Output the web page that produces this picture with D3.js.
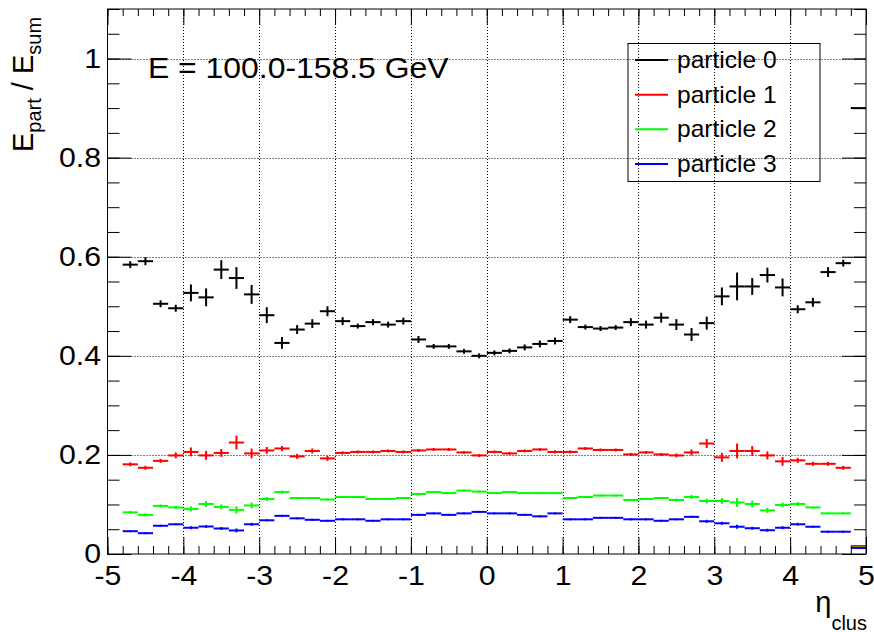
<!DOCTYPE html>
<html>
<head>
<meta charset="utf-8">
<script src="https://cdn.jsdelivr.net/npm/d3@7"></script>
<style>
  body { margin: 0; background: #fff; }
  svg { display: block; }
  text { font-family: "Liberation Sans", Arial, Helvetica, sans-serif; fill: #000; }
</style>
</head>
<body>
<svg id="chart" width="874" height="632"></svg>
<script>
// bin centres (bin width 0.2, first bin -4.9 is empty)
const etaCenters = [-4.7, -4.5, -4.3, -4.1, -3.9, -3.7, -3.5, -3.3, -3.1, -2.9, -2.7, -2.5, -2.3, -2.1, -1.9, -1.7, -1.5, -1.3, -1.1, -0.9, -0.7, -0.5, -0.3, -0.1,
  0.1, 0.3, 0.5, 0.7, 0.9, 1.1, 1.3, 1.5, 1.7, 1.9, 2.1, 2.3, 2.5, 2.7, 2.9, 3.1, 3.3, 3.5, 3.7, 3.9, 4.1, 4.3, 4.5, 4.7, 4.9];
const binWidth = 0.2;

const p0Values = [0.584, 0.591, 0.505, 0.496, 0.527, 0.518, 0.574, 0.557, 0.524, 0.482, 0.426, 0.453, 0.465, 0.490, 0.470, 0.460, 0.468, 0.463, 0.470, 0.433, 0.419, 0.419, 0.409, 0.400,
  0.406, 0.410, 0.417, 0.424, 0.430, 0.473, 0.458, 0.455, 0.457, 0.468, 0.463, 0.477, 0.463, 0.443, 0.466, 0.520, 0.540, 0.540, 0.563, 0.538, 0.494, 0.508, 0.569, 0.587, 0.900];
const p0Errors = [0.007, 0.008, 0.007, 0.007, 0.017, 0.018, 0.019, 0.022, 0.019, 0.016, 0.012, 0.009, 0.009, 0.010, 0.008, 0.005, 0.006, 0.006, 0.007, 0.007, 0.005, 0.005, 0.005, 0.005,
  0.005, 0.005, 0.006, 0.007, 0.007, 0.007, 0.005, 0.005, 0.005, 0.008, 0.008, 0.010, 0.011, 0.013, 0.013, 0.018, 0.028, 0.017, 0.015, 0.018, 0.008, 0.009, 0.010, 0.007, 0.0];

const p1Values = [0.181, 0.174, 0.188, 0.199, 0.206, 0.199, 0.204, 0.225, 0.203, 0.209, 0.213, 0.197, 0.208, 0.193, 0.204, 0.206, 0.206, 0.208, 0.206, 0.209, 0.211, 0.211, 0.205, 0.199,
  0.206, 0.203, 0.208, 0.211, 0.206, 0.206, 0.213, 0.210, 0.210, 0.201, 0.205, 0.201, 0.199, 0.205, 0.223, 0.195, 0.208, 0.208, 0.199, 0.187, 0.189, 0.182, 0.182, 0.174, 0.016];
const p1Errors = [0.004, 0.004, 0.004, 0.006, 0.009, 0.009, 0.008, 0.014, 0.010, 0.007, 0.005, 0.005, 0.005, 0.005, 0.003, 0.003, 0.003, 0.003, 0.003, 0.003, 0.003, 0.003, 0.003, 0.003,
  0.003, 0.003, 0.003, 0.003, 0.003, 0.003, 0.003, 0.003, 0.003, 0.003, 0.003, 0.003, 0.004, 0.006, 0.009, 0.009, 0.015, 0.010, 0.008, 0.009, 0.005, 0.004, 0.004, 0.004, 0.0];

const p2Values = [0.084, 0.079, 0.097, 0.094, 0.091, 0.101, 0.095, 0.089, 0.098, 0.111, 0.125, 0.113, 0.113, 0.110, 0.115, 0.115, 0.111, 0.111, 0.113, 0.121, 0.125, 0.123, 0.128, 0.126,
  0.123, 0.125, 0.123, 0.123, 0.123, 0.113, 0.115, 0.118, 0.118, 0.109, 0.111, 0.113, 0.109, 0.115, 0.107, 0.107, 0.104, 0.101, 0.088, 0.099, 0.101, 0.094, 0.082, 0.082, 0.013];
const p2Errors = [0.003, 0.003, 0.003, 0.003, 0.005, 0.006, 0.005, 0.007, 0.006, 0.004, 0.003, 0.002, 0.002, 0.002, 0.002, 0.002, 0.002, 0.002, 0.002, 0.002, 0.002, 0.002, 0.002, 0.002,
  0.002, 0.002, 0.002, 0.002, 0.002, 0.002, 0.002, 0.002, 0.002, 0.002, 0.002, 0.002, 0.003, 0.004, 0.005, 0.006, 0.009, 0.007, 0.005, 0.005, 0.004, 0.002, 0.002, 0.002, 0.0];

const p3Values = [0.046, 0.042, 0.057, 0.060, 0.053, 0.0555, 0.0515, 0.0475, 0.060, 0.068, 0.077, 0.072, 0.069, 0.067, 0.070, 0.070, 0.067, 0.070, 0.070, 0.079, 0.082, 0.079, 0.082, 0.085,
  0.082, 0.082, 0.079, 0.076, 0.082, 0.070, 0.070, 0.073, 0.073, 0.070, 0.070, 0.067, 0.070, 0.075, 0.066, 0.062, 0.055, 0.052, 0.048, 0.053, 0.060, 0.055, 0.045, 0.045, 0.012];
const p3Errors = [0.002, 0.002, 0.002, 0.002, 0.003, 0.003, 0.003, 0.004, 0.003, 0.002, 0.002, 0.002, 0.002, 0.002, 0.002, 0.002, 0.002, 0.002, 0.002, 0.002, 0.002, 0.002, 0.002, 0.002,
  0.002, 0.002, 0.002, 0.002, 0.002, 0.002, 0.002, 0.002, 0.002, 0.002, 0.002, 0.002, 0.002, 0.002, 0.003, 0.003, 0.004, 0.003, 0.003, 0.003, 0.003, 0.002, 0.002, 0.002, 0.0];

const seriesNames = ["particle 0", "particle 1", "particle 2", "particle 3"];
const seriesColors = ["#000000", "#ff0000", "#00ff00", "#0000ff"];
const xMajorTicks = [-5, -4, -3, -2, -1, 0, 1, 2, 3, 4, 5];
const yMajorTicks = [0, 0.2, 0.4, 0.6, 0.8, 1];
const energyLabel = "E = 100.0-158.5 GeV";

const svg = d3.select("#chart");
const frameL = 107.5, frameR = 866, frameT = 9, frameB = 554;

const x = d3.scaleLinear().domain([-5, 5]).range([frameL, frameR]);
const y = d3.scaleLinear().domain([0, 1.1]).range([frameB, frameT]);

const allValues = [p0Values, p1Values, p2Values, p3Values];
const allErrors = [p0Errors, p1Errors, p2Errors, p3Errors];
const series = seriesNames.map((name, i) => ({
  name: name,
  color: seriesColors[i],
  points: etaCenters.map((eta, j) => ({ eta: eta, v: allValues[i][j], e: allErrors[i][j] }))
}));

// grid (dotted)
const grid = svg.append("g").attr("stroke", "#000").attr("stroke-width", 1).attr("stroke-dasharray", "1,2");
grid.selectAll("line.gx")
  .data(xMajorTicks.slice(1, -1))
  .enter().append("line")
  .attr("class", "gx")
  .attr("x1", d => Math.round(x(d)) + 0.5).attr("x2", d => Math.round(x(d)) + 0.5)
  .attr("y1", frameT).attr("y2", frameB);
grid.selectAll("line.gy")
  .data(yMajorTicks.slice(1))
  .enter().append("line")
  .attr("class", "gy")
  .attr("y1", d => Math.round(y(d)) + 0.5).attr("y2", d => Math.round(y(d)) + 0.5)
  .attr("x1", frameL).attr("x2", frameR);

// data: horizontal bin bars + vertical error bars
series.forEach(s => {
  const g = svg.append("g").attr("stroke", s.color).attr("stroke-width", 2);
  g.selectAll("line.h")
    .data(s.points)
    .enter().append("line")
    .attr("class", "h")
    .attr("x1", d => x(d.eta - binWidth / 2))
    .attr("x2", d => x(d.eta + binWidth / 2))
    .attr("y1", d => y(d.v))
    .attr("y2", d => y(d.v));
  g.selectAll("line.v")
    .data(s.points.filter(d => d.e > 0))
    .enter().append("line")
    .attr("class", "v")
    .attr("x1", d => x(d.eta)).attr("x2", d => x(d.eta))
    .attr("y1", d => y(d.v - d.e))
    .attr("y2", d => y(d.v + d.e));
});

// axes (ticks drawn inside the frame)
function styleAxis(g) {
  g.select(".domain").remove();
  g.selectAll(".tick line").attr("stroke", "#000").attr("stroke-width", 1);
}
const xMinor = d3.range(-50, 51, 2).map(d => d / 10);
const yMinor = d3.range(0, 23, 1).map(d => d * 0.05);

svg.append("g").attr("transform", `translate(0,${frameB})`)
  .call(d3.axisBottom(x).tickValues(xMinor).tickSize(-8).tickFormat("")).call(styleAxis);
const xAxis = svg.append("g").attr("transform", `translate(0,${frameB})`)
  .call(d3.axisBottom(x).tickValues(xMajorTicks).tickSize(-17).tickPadding(11).tickFormat(d => String(d)))
  .call(styleAxis);
xAxis.selectAll(".tick text").attr("font-size", 28).attr("transform", "scale(1.08,1)");

svg.append("g").attr("transform", `translate(0,${frameT})`)
  .call(d3.axisTop(x).tickValues(xMinor).tickSize(-7).tickFormat("")).call(styleAxis);
svg.append("g").attr("transform", `translate(0,${frameT})`)
  .call(d3.axisTop(x).tickValues(xMajorTicks).tickSize(-16).tickFormat("")).call(styleAxis);

svg.append("g").attr("transform", `translate(${frameL},0)`)
  .call(d3.axisLeft(y).tickValues(yMinor).tickSize(-12).tickFormat("")).call(styleAxis);
const yAxis = svg.append("g").attr("transform", `translate(${frameL},0)`)
  .call(d3.axisLeft(y).tickValues(yMajorTicks).tickSize(-24).tickPadding(6).tickFormat(d3.format("~g")))
  .call(styleAxis);
yAxis.selectAll(".tick text").attr("font-size", 28).attr("transform", "scale(1.08,1)");

svg.append("g").attr("transform", `translate(${frameR},0)`)
  .call(d3.axisRight(y).tickValues(yMinor).tickSize(-12).tickFormat("")).call(styleAxis);
svg.append("g").attr("transform", `translate(${frameR},0)`)
  .call(d3.axisRight(y).tickValues(yMajorTicks).tickSize(-24).tickFormat("")).call(styleAxis);

// frame
svg.append("rect")
  .attr("x", frameL).attr("y", frameT)
  .attr("width", frameR - frameL).attr("height", frameB - frameT)
  .attr("fill", "none").attr("stroke", "#000").attr("stroke-width", 1);

// axis titles
const yTitle = svg.append("text")
  .attr("transform", "translate(33,152) rotate(-90)")
  .attr("font-size", 29);
yTitle.append("tspan").text("E");
yTitle.append("tspan").attr("font-size", 20).attr("dy", 8).text("part");
yTitle.append("tspan").attr("dy", -8).text(" / E");
yTitle.append("tspan").attr("font-size", 20).attr("dy", 8).text("sum");

const xTitle = svg.append("text")
  .attr("x", 867).attr("y", 612)
  .attr("text-anchor", "end")
  .attr("font-size", 29);
xTitle.append("tspan").text("η");
xTitle.append("tspan").attr("font-size", 20).attr("dy", 17.5).text("clus");

// energy label
svg.append("text")
  .attr("transform", "translate(148,77.5) scale(1.1,1)")
  .attr("font-size", 29)
  .text(energyLabel);

// legend
const legend = svg.append("g");
legend.append("rect")
  .attr("x", 628).attr("y", 43.5)
  .attr("width", 192).attr("height", 138)
  .attr("fill", "none").attr("stroke", "#000").attr("stroke-width", 1);
const rowY = d3.scalePoint().domain(seriesNames).range([60, 164]);
const items = legend.selectAll("g.item")
  .data(series)
  .enter().append("g")
  .attr("class", "item")
  .attr("transform", d => `translate(0,${rowY(d.name)})`);
items.append("line")
  .attr("x1", 635).attr("x2", 668)
  .attr("y1", 0).attr("y2", 0)
  .attr("stroke", d => d.color).attr("stroke-width", 2);
items.append("text")
  .attr("transform", "translate(677,0) scale(1.07,1)")
  .attr("dy", "0.35em")
  .attr("font-size", 23)
  .text(d => d.name);
</script>
</body>
</html>
